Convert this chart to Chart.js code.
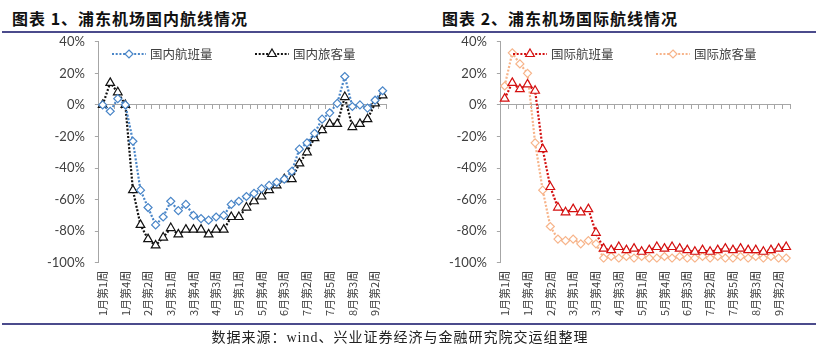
<!DOCTYPE html>
<html>
<head>
<meta charset="utf-8">
<script src="https://cdn.jsdelivr.net/npm/chart.js@4.4.1/dist/chart.umd.min.js"></script>
<style>
  body { margin: 0; width: 816px; height: 352px; background: #fff; position: relative; overflow: hidden; }
  .title { position: absolute; top: 6px; font: bold 16px "Noto Sans CJK SC", sans-serif; color: #111; letter-spacing: 1px; }
  .rule { position: absolute; left: 2px; right: 0; height: 2px; background: #4b4b8c; }
  .src { position: absolute; top: 326px; left: 0; width: 800px; text-align: center; font: 14px "Liberation Serif", "Noto Sans CJK SC", serif; color: #222; letter-spacing: 1px; }
  canvas { position: absolute; top: 24px; }
</style>
</head>
<body>
<div class="title" style="left:12px">图表 1、浦东机场国内航线情况</div>
<div class="title" style="left:442px">图表 2、浦东机场国际航线情况</div>
<div class="rule" style="top:31px"></div>
<canvas id="c1" width="404" height="300" style="left:0"></canvas>
<canvas id="c2" width="412" height="300" style="left:404px"></canvas>
<div class="rule" style="top:323px"></div>
<div class="src">数据来源：wind、兴业证券经济与金融研究院交运组整理</div>
<script>
const weeks = ['1月第1周','1月第2周','1月第3周','1月第4周','1月第5周','2月第1周','2月第2周','2月第3周','2月第4周',
  '3月第1周','3月第2周','3月第3周','3月第4周','4月第1周','4月第2周','4月第3周','4月第4周','4月第5周',
  '5月第1周','5月第2周','5月第3周','5月第4周','6月第1周','6月第2周','6月第3周','6月第4周',
  '7月第1周','7月第2周','7月第3周','7月第4周','7月第5周','8月第1周','8月第2周','8月第3周','8月第4周',
  '9月第1周','9月第2周','9月第3周'];

// 国内 (%)
const domFlights = [0, -4, 4, 0, -23, -54, -65, -76, -71, -61, -67, -63, -70, -72, -73, -71, -70, -63, -61,
  -58, -56, -53, -51, -49, -47, -42, -28, -24, -18, -9, -5, 1, 18, -1, 0, -2, 3, 9];
const domPax = [0, 14, 8, 0, -54, -76, -85, -89, -84, -78, -82, -79, -79, -79, -82, -79, -79, -71, -71,
  -65, -61, -58, -54, -51, -47, -47, -37, -30, -21, -16, -12, -12, 5, -14, -12, -9, 1, 6];

// 国际 (%)
const intFlights = [4, 14, 10, 13, 9, -28, -52, -65, -68, -66, -68, -66, -81, -91, -92, -90, -92, -91, -93,
  -92, -90, -91, -90, -91, -92, -93, -92, -93, -92, -91, -92, -91, -92, -92, -93, -92, -91, -90];
const intPax = [12, 33, 26, 20, -24, -54, -77, -85, -86, -85, -88, -86, -88, -97, -96, -97, -96, -97, -96,
  -97, -97, -96, -97, -96, -97, -97, -96, -97, -96, -97, -97, -96, -97, -96, -97, -96, -97, -97];

const yTicks = [40, 20, 0, -20, -40, -60, -80, -100];

const axisGray = '#a6a6a6';
const txt = '#404040';

function marker(ctx, style, x, y, r, stroke, fill) {
  ctx.save();
  ctx.beginPath();
  if (style === 'triangle') {
    for (let k = 0; k < 3; k++) {
      const a = k * 2 * Math.PI / 3;
      const px = x + Math.sin(a) * r, py = y - Math.cos(a) * r;
      k ? ctx.lineTo(px, py) : ctx.moveTo(px, py);
    }
  } else {
    ctx.moveTo(x, y - r); ctx.lineTo(x + r, y); ctx.lineTo(x, y + r); ctx.lineTo(x - r, y);
  }
  ctx.closePath();
  ctx.fillStyle = fill; ctx.fill();
  ctx.lineWidth = 1.2; ctx.strokeStyle = stroke; ctx.stroke();
  ctx.restore();
}

const legendPlugin = {
  id: 'xlsLegend',
  afterDraw(chart, args, opts) {
    const ctx = chart.ctx;
    opts.items.forEach((it, k) => {
      const ds = chart.data.datasets[k];
      ctx.save();
      ctx.strokeStyle = ds.borderColor;
      ctx.lineWidth = ds.borderWidth;
      ctx.lineCap = 'butt';
      ctx.setLineDash(ds.borderDash);
      ctx.beginPath();
      ctx.moveTo(it.x, opts.y); ctx.lineTo(it.x + 34, opts.y);
      ctx.stroke();
      ctx.restore();
      marker(ctx, ds.pointStyle, it.x + 17, opts.y, ds.pointRadius, ds.pointBorderColor, '#fff');
      ctx.save();
      ctx.fillStyle = txt;
      ctx.font = '12.5px "Noto Sans CJK SC", sans-serif';
      ctx.textBaseline = 'middle';
      ctx.fillText(ds.label, it.x + 38, opts.y);
      ctx.restore();
    });
  }
};

function series(label, data, color, style, r) {
  return {
    label, data,
    xAxisID: 'x', yAxisID: 'y',
    borderColor: color, borderWidth: 2.2, borderDash: [2, 1.7], borderCapStyle: 'butt',
    pointStyle: style, pointRadius: r, pointHoverRadius: r,
    pointBorderColor: color, pointBackgroundColor: '#fff', pointBorderWidth: 1.2,
    tension: 0, fill: false
  };
}

function makeChart(id, datasets, pad, legendItems) {
  return new Chart(document.getElementById(id), {
    type: 'line',
    data: { labels: weeks, datasets },
    options: {
      responsive: false,
      animation: false,
      layout: { padding: pad },
      plugins: {
        legend: { display: false },
        tooltip: { enabled: false },
        xlsLegend: { y: 30, items: legendItems }
      },
      scales: {
        x: {
          type: 'category', position: 'bottom', offset: true,
          grid: { display: false, drawTicks: false },
          border: { display: false },
          ticks: {
            autoSkip: false, maxRotation: 90, minRotation: 90, padding: 8,
            color: txt, font: { family: '"Noto Sans CJK SC", sans-serif', size: 11 },
            callback: (v, i) => (i % 3 === 0 ? weeks[i] : '')
          }
        },
        x0: {
          type: 'category', position: { y: 0 }, offset: true,
          grid: { drawOnChartArea: false, offset: true, tickLength: 4, color: axisGray },
          border: { color: axisGray, width: 1 },
          ticks: { display: false }
        },
        y: {
          min: -100, max: 40,
          afterBuildTicks: s => { s.ticks = yTicks.map(v => ({ value: v })); },
          grid: { drawOnChartArea: false, tickLength: 4, color: axisGray },
          border: { color: axisGray },
          ticks: {
            padding: 10, color: txt,
            font: { family: 'Lato, "Noto Sans", sans-serif', size: 13 },
            callback: v => v + '%'
          }
        }
      }
    },
    plugins: [legendPlugin]
  });
}

makeChart('c1', [
  series('国内航班量', domFlights, '#4a86c8', 'rectRot', 4),
  series('国内旅客量', domPax, '#111111', 'triangle', 5)
], { left: 37, right: 12, top: 3, bottom: 0 },
[{ x: 112 }, { x: 255 }]);

makeChart('c2', [
  series('国际航班量', intFlights, '#d40f0f', 'triangle', 5),
  series('国际旅客量', intPax, '#f7b48a', 'rectRot', 4)
], { left: 35, right: 26, top: 3, bottom: 0 },
[{ x: 109 }, { x: 252 }]);
</script>
</body>
</html>
